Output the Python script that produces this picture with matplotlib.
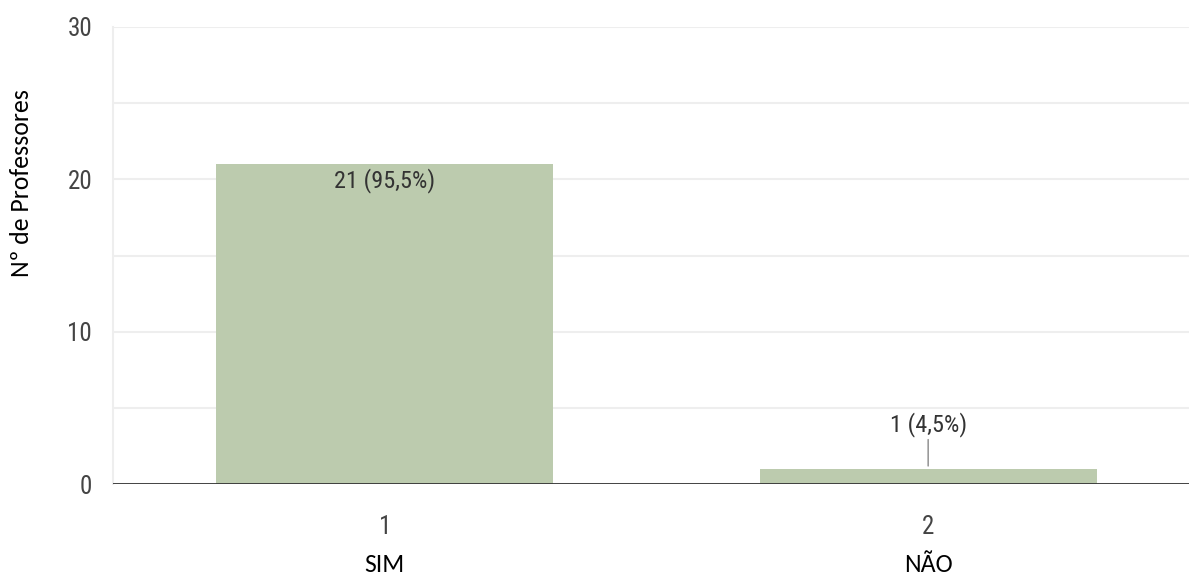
import matplotlib
matplotlib.use("Agg")
import matplotlib.pyplot as plt
from matplotlib import font_manager

categories = ["SIM", "NÃO"]
tick_labels = ["1", "2"]
values = [21, 1]
value_labels = ["21 (95,5%)", "1 (4,5%)"]

names = {f.name for f in font_manager.fontManager.ttflist}
narrow = [n for n in ["Roboto Condensed", "Liberation Sans Narrow", "Arial Narrow"] if n in names] + ["Roboto", "DejaVu Sans"]
body = [n for n in ["Carlito", "Open Sans"] if n in names] + ["DejaVu Sans"]

W, H = 1189, 585
PT = 0.72  # points per pixel at dpi 100
fig = plt.figure(figsize=(W / 100, H / 100), dpi=100)
ax = fig.add_axes([113 / W, 101 / H, 1 - 113 / W, (484 - 27) / H])

x = list(range(len(values)))
ax.bar(x, values, width=0.62, color="#bccbae", zorder=2)

ax.set_xlim(-0.5, 1.48)
ax.set_ylim(0, 30)
ax.set_yticks([0, 10, 20, 30])
ax.set_yticks([5, 15, 25], minor=True)
ax.grid(axis="y", which="both", color="#eeeeee", linewidth=1.5, zorder=0)
for s in ["top", "right", "bottom"]:
    ax.spines[s].set_visible(False)
ax.spines["left"].set_color("#eeeeee")
ax.spines["left"].set_linewidth(1.5)
ax.axhline(0, color="#333333", linewidth=2, zorder=3)

ax.tick_params(axis="both", which="both", length=0)
ax.tick_params(axis="y", pad=15)
ax.set_xticks(x)
ax.set_xticklabels(tick_labels)
ax.tick_params(axis="x", pad=22)
for lab in ax.get_xticklabels() + ax.get_yticklabels():
    lab.set_family(narrow)
    lab.set_fontsize(18)
    lab.set_color("#444444")

# category names below
for xi, c in zip(x, categories):
    ax.annotate(c, xy=(xi, 0), xycoords="data", xytext=(0, -81 * PT), textcoords="offset points",
                ha="center", va="center", fontsize=18.5, family=body, color="black")

ax.set_ylabel("Nº de Professores", family=body, fontsize=18.5)
ax.yaxis.set_label_coords(-80 / (W - 113), (484 - 183) / (484 - 27))

# data labels
ax.annotate(value_labels[0], xy=(x[0], values[0]), xytext=(0, -16 * PT), textcoords="offset points",
            ha="center", va="center", fontsize=17.5, family=narrow, color="#333333", zorder=4)
ax.annotate(value_labels[1], xy=(x[1], values[1]), xytext=(0, 44 * PT), textcoords="offset points",
            ha="center", va="center", fontsize=17.5, family=narrow, color="#333333", zorder=4)
ax.annotate("", xy=(x[1], values[1]), xytext=(x[1], values[1] + 2.1), textcoords="data",
            arrowprops=dict(arrowstyle="-", color="#888888", lw=1), zorder=4)

fig.savefig("out.png", dpi=100)
